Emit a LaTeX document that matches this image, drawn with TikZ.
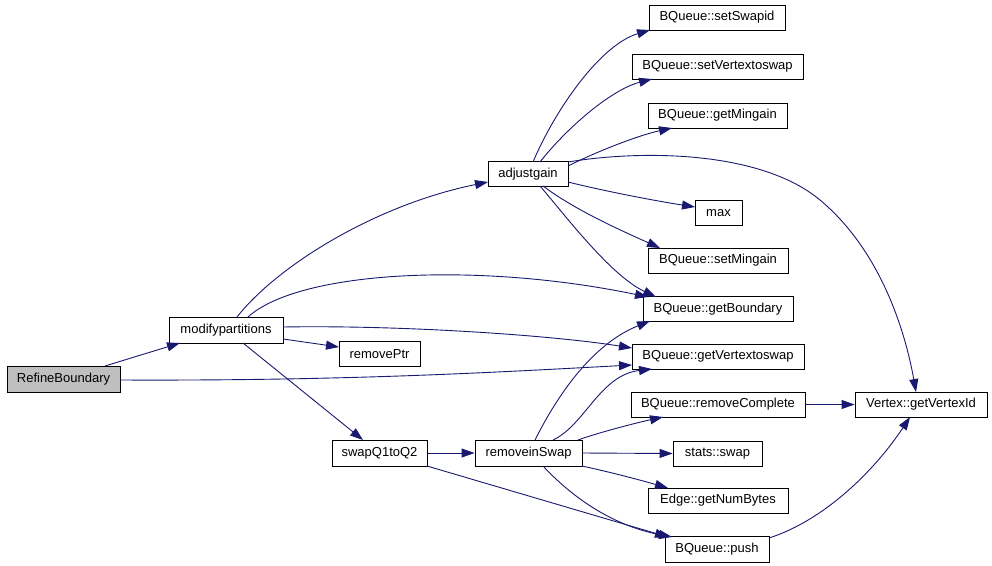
\documentclass[tikz,border=0pt]{standalone}
\usepackage{fontspec}
\setmainfont{Liberation Sans}
\usetikzlibrary{arrows.meta}
\definecolor{edgec}{HTML}{191970}
\definecolor{rootfill}{HTML}{BFBFBF}
\begin{document}
\begin{tikzpicture}[x=1pt,y=-1pt,
  fn/.style={draw=black,line width=0.9pt,fill=white,inner sep=0pt,minimum height=25pt,font=\fontsize{13}{15}\selectfont},
  root/.style={fn,fill=rootfill},
  call/.style={draw=edgec,line width=0.9pt,-{Triangle[length=13pt,width=9pt]}}]
\fill[white] (0,0) rectangle (992,565);
\useasboundingbox (0,0) rectangle (992,565);
% nodes
\node[root,minimum width=113pt,minimum height=26pt] (RB) at (63.5,379) {RefineBoundary};
\node[fn,minimum width=114pt,minimum height=26pt] (MP) at (226,330) {modifypartitions};
\node[fn,minimum width=80pt] (AG) at (528,174) {adjustgain};
\node[fn,minimum width=81pt] (RP) at (379.5,354) {removePtr};
\node[fn,minimum width=95pt,minimum height=26pt] (SQ) at (379.5,453) {swapQ1toQ2};
\node[fn,minimum width=107pt,minimum height=26pt] (RS) at (528.5,453) {removeinSwap};
\node[fn,minimum width=136pt] (SS) at (717,17.5) {BQueue::setSwapid};
\node[fn,minimum width=171pt] (SV) at (717.5,66.5) {BQueue::setVertextoswap};
\node[fn,minimum width=139pt] (GM) at (717.5,115.5) {BQueue::getMingain};
\node[fn,minimum width=47pt] (MX) at (718.5,213) {max};
\node[fn,minimum width=140pt] (SM) at (718,260.5) {BQueue::setMingain};
\node[fn,minimum width=150pt] (GB) at (718,309) {BQueue::getBoundary};
\node[fn,minimum width=172pt] (GV) at (718,356.5) {BQueue::getVertextoswap};
\node[fn,minimum width=174pt] (RC) at (718,404.5) {BQueue::removeComplete};
\node[fn,minimum width=89pt] (ST) at (717.5,453.5) {stats::swap};
\node[fn,minimum width=140pt] (EN) at (718,500.5) {Edge::getNumBytes};
\node[fn,minimum width=104pt,minimum height=26pt] (PU) at (717,549) {BQueue::push};
\node[fn,minimum width=132pt] (VI) at (921,404.5) {Vertex::getVertexId};
% edges
\draw[call] ([shift={(41.5,-13)}]RB.center) -- ([shift={(-46,13)}]MP.center);
\draw[call] ([shift={(56.5,1)}]RB.center) .. controls (350,381) and (500,372) .. ([shift={(-86,8.5)}]GV.center);
\draw[call] ([shift={(11,-13)}]MP.center) .. controls (277,266) and (375,205) .. ([shift={(-40,8)}]AG.center);
\draw[call] ([shift={(22,-13)}]MP.center) .. controls (300,270) and (480,262) .. ([shift={(-70,-12)}]GB.center);
\draw[call] ([shift={(57,-3)}]MP.center) .. controls (400,325) and (550,335) .. ([shift={(-86,-8.5)}]GV.center);
\draw[call] ([shift={(57,9)}]MP.center) -- ([shift={(-40.5,-7)}]RP.center);
\draw[call] ([shift={(17,13)}]MP.center) -- ([shift={(-16.5,-13)}]SQ.center);
\draw[call] ([shift={(5,-12)}]AG.center) .. controls (555,110) and (600,45) .. ([shift={(-67,12.5)}]SS.center);
\draw[call] ([shift={(12,-12)}]AG.center) .. controls (565,130) and (610,90) .. ([shift={(-65.5,12.5)}]SV.center);
\draw[call] ([shift={(40,-8)}]AG.center) .. controls (600,150) and (640,135) .. ([shift={(-45.5,12.5)}]GM.center);
\draw[call] ([shift={(40,-12)}]AG.center) .. controls (640,150) and (760,150) .. (820,200) .. controls (880,250) and (905,330) .. ([shift={(-5,-12.5)}]VI.center);
\draw[call] ([shift={(40,8)}]AG.center) .. controls (600,190) and (650,200) .. ([shift={(-23.5,-6)}]MX.center);
\draw[call] ([shift={(15,12)}]AG.center) .. controls (575,210) and (620,230) .. ([shift={(-58,-12.5)}]SM.center);
\draw[call] ([shift={(12,12)}]AG.center) .. controls (565,215) and (610,275) .. ([shift={(-62,-12)}]GB.center);
\draw[call] (SQ.east) -- (RS.west);
\draw[call] ([shift={(47.5,13)}]SQ.center) -- ([shift={(-49,-12)}]PU.center);
\draw[call] ([shift={(6.5,-13)}]RS.center) .. controls (555,400) and (590,345) .. ([shift={(-68,12)}]GB.center);
\draw[call] ([shift={(24.5,-13)}]RS.center) .. controls (585,425) and (600,375) .. ([shift={(-66,12.5)}]GV.center);
\draw[call] ([shift={(49.5,-13)}]RS.center) .. controls (600,432) and (640,422) .. ([shift={(-55,12.5)}]RC.center);
\draw[call] (RS.east) -- (ST.west);
\draw[call] ([shift={(53.5,13)}]RS.center) .. controls (610,472) and (640,480) .. ([shift={(-50,-12.5)}]EN.center);
\draw[call] ([shift={(14.5,13)}]RS.center) .. controls (570,495) and (610,525) .. ([shift={(-45,-12)}]PU.center);
\draw[call] (RC.east) -- (VI.west);
\draw[call] ([shift={(52,-11)}]PU.center) .. controls (825,520) and (875,470) .. ([shift={(-11,12.5)}]VI.center);
\end{tikzpicture}
\end{document}
